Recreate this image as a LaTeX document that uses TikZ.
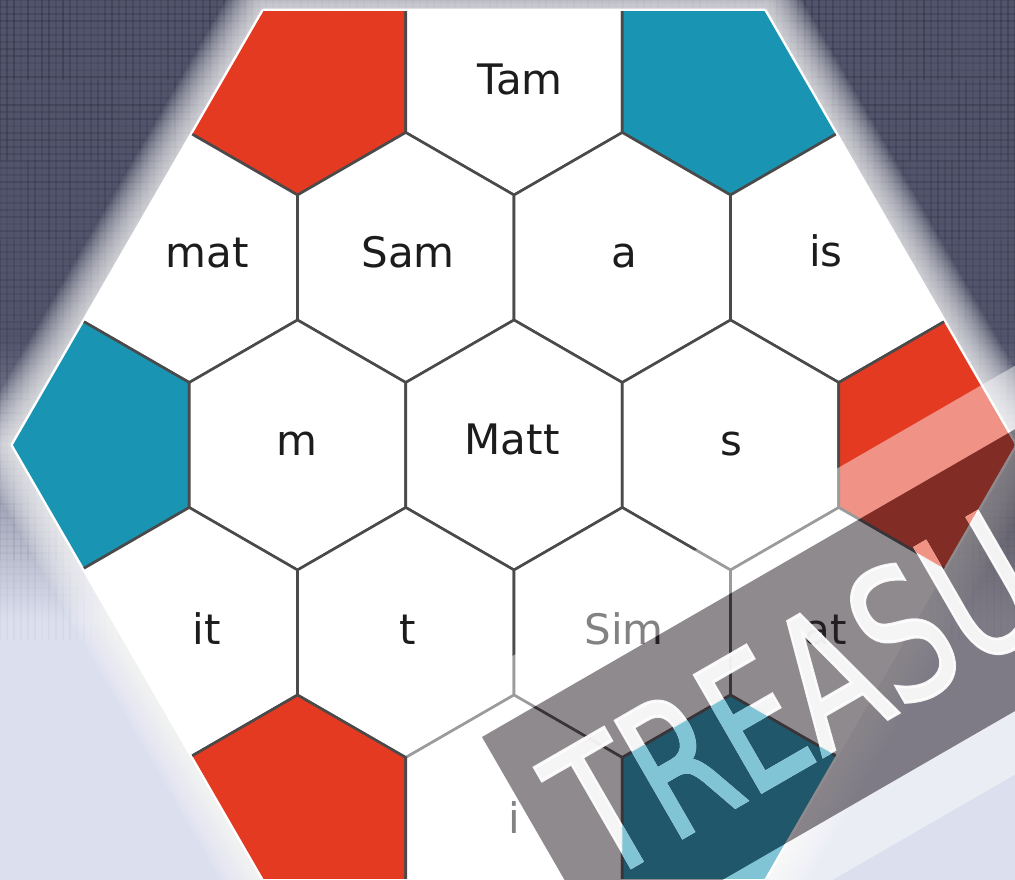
\documentclass[tikz,border=0pt]{standalone}
\usepackage{fontspec}
\setmainfont{DejaVu Sans}
\newfontfamily\markfont[FakeBold=1.6]{DejaVu Sans}
\usepackage{graphicx}
\usetikzlibrary{calc}

\definecolor{bgdark}{HTML}{51546B}
\definecolor{bgline}{HTML}{2B2D40}
\definecolor{bglight}{HTML}{DCDFEE}
\definecolor{hexred}{HTML}{E43A21}
\definecolor{hexteal}{HTML}{1994B3}
\definecolor{edgegray}{HTML}{4A4A4A}
\definecolor{wordink}{HTML}{1C1C1C}
\definecolor{bandgray}{RGB}{40,32,40}
\colorlet{tealwash}{hexteal!55!white}
\colorlet{redwash}{hexred!55!white}

% one pointy-top cell of the board, centre (#1,#2)
\newcommand{\hexat}[2]{(#1,#2) ++(90:125) -- ++(-30:125) -- ++(-90:125) -- ++(-150:125) -- ++(150:125) -- ++(90:125) -- cycle}
% outline of the whole board
\newcommand{\boardhex}{(1015,445) -- (764.5,11.1) -- (263.5,11.1) -- (13,445) -- (263.5,878.9) -- (764.5,878.9) -- cycle}

\begin{document}
\begin{tikzpicture}[x=1pt, y=-1pt,
  celledge/.style={draw=edgegray, line width=2.6pt, line join=round},
  cellword/.style={font=\fontsize{42}{42}\selectfont, text=wordink, anchor=base, inner sep=0pt},
  glowline/.style={draw=white, opacity=0.07, line join=round},
  texline/.style={draw=bgline, line width=1.5pt},
  markword/.style={rotate=30, inner sep=0pt, font=\markfont\fontsize{185}{185}\selectfont}]

  \useasboundingbox (0,0) rectangle (1015,880);
  \clip (0,0) rectangle (1015,880);

  % background
  \fill[bgdark] (0,0) rectangle (1015,340);
  \shade[top color=bgdark, bottom color=bglight] (0,339) rectangle (1015,621);
  \fill[bglight] (0,620) rectangle (1015,880);
  \foreach \tx in {0,7,...,1015}
    \foreach \ty in {0,80,...,560}{
      \pgfmathsetmacro\texop{round(100*(0.12+0.3*rnd)*(1-\ty/620))/100}
      \draw[texline, opacity=\texop] (\tx,\ty) -- (\tx,\ty+80);
    }
  \foreach \ty in {0,7,...,600}{
    \pgfmathsetmacro\texop{round(100*(0.12+0.3*rnd)*(1-\ty/620))/100}
    \draw[texline, opacity=\texop] (0,\ty) -- (1015,\ty);
  }

  % glow round the board
  \foreach \w in {76,72,...,8}
    \draw[glowline, line width=\w pt] \boardhex;
  \draw[white, line width=5pt, line join=round] \boardhex;

  % board
  \fill[white] \boardhex;
  \begin{scope}
    \clip \boardhex;
    \foreach \cx/\cy/\cc in {297.494/70/hexred, 514/70/white, 730.506/70/hexteal,
        189.24/257.5/white, 405.747/257.5/white, 622.253/257.5/white, 838.76/257.5/white,
        80.987/445/hexteal, 297.494/445/white, 514/445/white, 730.506/445/white, 947.013/445/hexred,
        189.24/632.5/white, 405.747/632.5/white, 622.253/632.5/white, 838.76/632.5/white,
        297.494/820/hexred, 514/820/white, 730.506/820/hexteal}
      \filldraw[celledge, fill=\cc] \hexat{\cx}{\cy};
  \end{scope}

  \node[cellword] (wTam) at (520,95) {Tam};
  \node[cellword] (wmat) at (207,267) {mat};
  \node[cellword] (wSam) at (408,267) {Sam};
  \node[cellword] (wa) at (624,267) {a};
  \node[cellword] (wis) at (826,266) {is};
  \node[cellword] (wm) at (297,455) {m};
  \node[cellword] (wMatt) at (512,454) {Matt};
  \node[cellword] (ws) at (731,455) {s};
  \node[cellword] (wit) at (207,644) {it};
  \node[cellword] (wt) at (408,644) {t};
  \node[cellword] (wSim) at (624,644) {Sim};
  \node[cellword] (wat) at (826,644) {at};
  \node[cellword] (wi) at (514,833) {i};

  % watermark band
  \fill[white, opacity=0.45, even odd rule]
    (389.6,726.9) -- (1233.9,239.4) -- (1410.9,545.9) -- (566.6,1033.4) -- cycle
    (482,737) -- (1261.4,287) -- (1383.4,498.3) -- (604,948.3) -- cycle;
  \fill[bandgray, opacity=0.52] (482,737) -- (1261.4,287) -- (1383.4,498.3) -- (604,948.3) -- cycle;
  \node[markword, text=white, text opacity=0.92] (mark) at (795,695) {\scalebox{0.71}[1]{TREASU}};
  \begin{scope}
    \clip \boardhex;
    \clip \hexat{730.506}{820};
    \node[markword, text=tealwash] (markteal) at (795,695) {\scalebox{0.71}[1]{TREASU}};
  \end{scope}
  \begin{scope}
    \clip \boardhex;
    \clip \hexat{947.013}{445};
    \node[markword, text=redwash] (markred) at (795,695) {\scalebox{0.71}[1]{TREASU}};
  \end{scope}
\end{tikzpicture}
\end{document}
